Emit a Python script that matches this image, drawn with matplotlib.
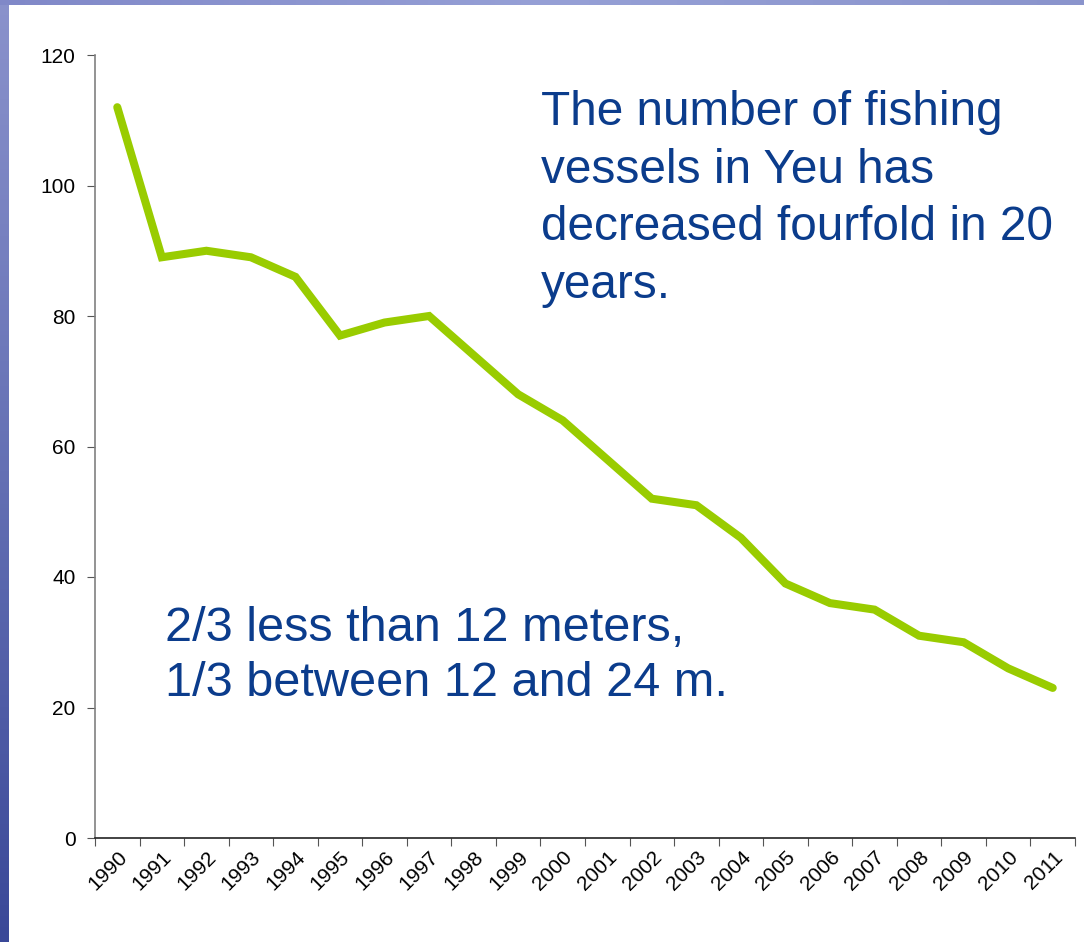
import numpy as np
import matplotlib
matplotlib.use("Agg")
import matplotlib.pyplot as plt
from matplotlib.colors import LinearSegmentedColormap

plt.rcParams["font.family"] = ["Liberation Sans", "DejaVu Sans"]

years = [str(y) for y in range(1990, 2012)]
vessels = [112, 89, 90, 89, 86, 77, 79, 80, 74, 68, 64, 58,
           52, 51, 46, 39, 36, 35, 31, 30, 26, 23]

text_top = "The number of fishing\nvessels in Yeu has\ndecreased fourfold in 20\nyears."
text_bottom = "2/3 less than 12 meters,\n1/3 between 12 and 24 m."

W, H = 1084, 942
fig = plt.figure(figsize=(W / 100, H / 100), dpi=100)
fig.patch.set_facecolor("white")

# slide frame: left strip and top strip with a soft blue gradient
left_ax = fig.add_axes([0, 0, 9 / W, 1])
left_cmap = LinearSegmentedColormap.from_list("l", ["#3a4898", "#6470b4", "#8a92cc"])
left_ax.imshow(np.linspace(0, 1, 256)[:, None], aspect="auto", cmap=left_cmap, origin="lower")
left_ax.axis("off")

top_ax = fig.add_axes([0, 1 - 5 / H, 1, 5 / H])
top_cmap = LinearSegmentedColormap.from_list("t", ["#8088c8", "#96a0d6", "#8a94cc"])
top_ax.imshow(np.linspace(0, 1, 256)[None, :], aspect="auto", cmap=top_cmap)
top_ax.axis("off")

ax = fig.add_axes([95 / W, 1 - 838 / H, (1075 - 95) / W, (838 - 55) / H])
x = np.arange(len(years))
ax.plot(x, vessels, color="#99cc00", lw=5.8, solid_capstyle="round",
        solid_joinstyle="miter")

ax.set_xlim(-0.5, len(years) - 0.5)
ax.set_ylim(0, 120)
ax.set_yticks(range(0, 121, 20))
ax.tick_params(axis="y", labelsize=15, length=6, color="#555555", pad=8)

ax.set_xticks(np.arange(-0.5, len(years), 1.0))
ax.set_xticklabels([])
ax.set_xticks(x, minor=True)
ax.set_xticklabels(years, minor=True, rotation=45, ha="right",
                   rotation_mode="anchor", fontsize=15)
ax.tick_params(axis="x", which="major", length=6, color="#555555")
ax.tick_params(axis="x", which="minor", length=0, pad=7)

for s in ["top", "right"]:
    ax.spines[s].set_visible(False)
ax.spines["left"].set_color("#808080")
ax.spines["left"].set_linewidth(1.2)
ax.spines["bottom"].set_color("#222222")
ax.spines["bottom"].set_linewidth(1.2)

fig.text(541 / W, 1 - 90 / H, text_top, color="#0b3c8c", fontsize=34.4,
         va="top", ha="left", linespacing=1.36)
fig.text(165 / W, 1 - 606 / H, text_bottom, color="#0b3c8c", fontsize=35,
         va="top", ha="left", linespacing=1.3)

fig.savefig("out.png", dpi=100)
